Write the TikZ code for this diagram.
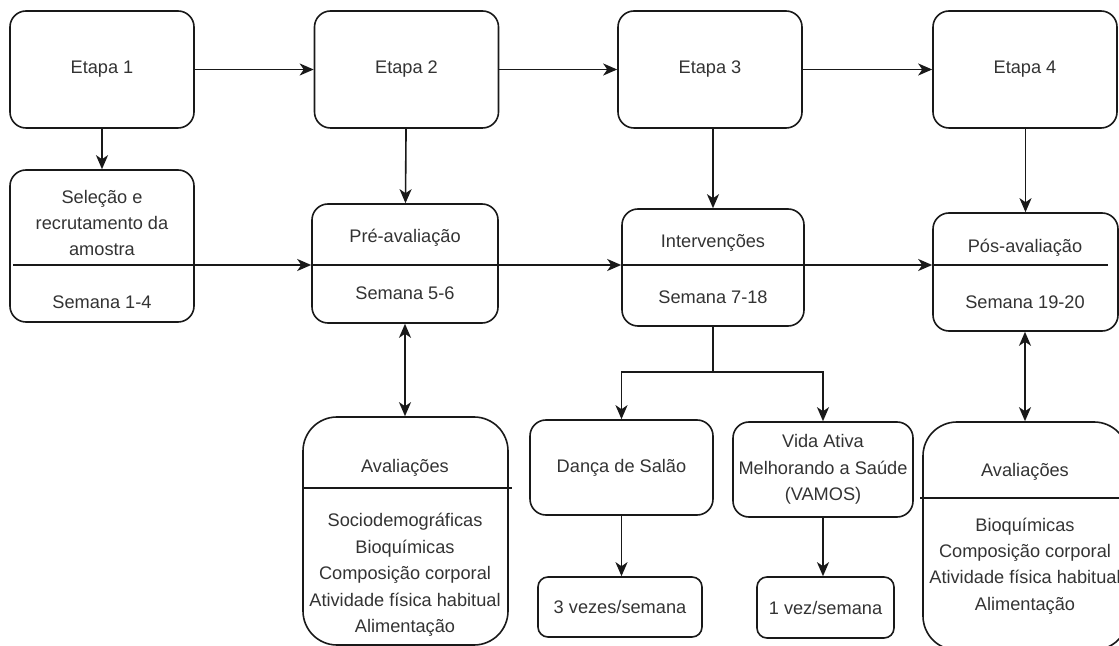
\documentclass[tikz,border=0pt]{standalone}
\usepackage{fontspec}
\setmainfont{Liberation Sans}
\usetikzlibrary{arrows.meta}
\tikzset{
	caixa/.style={draw=black!90, line width=0.8pt, rounded corners=8pt, inner sep=0pt, align=center,
			font=\fontsize{9.1}{13.2}\selectfont, text=black!80},
	avbox/.style={caixa, rounded corners=17pt},
	mini/.style={caixa, rounded corners=5pt},
	txt/.style={inner sep=0pt, align=center, font=\fontsize{9.1}{13.2}\selectfont, text=black!80},
	seta/.style={-{Stealth[length=7pt,width=6pt,inset=2pt]}, line width=0.8pt, black!90},
	seta2/.style={{Stealth[length=7pt,width=6pt,inset=2pt]}-{Stealth[length=7pt,width=6pt,inset=2pt]}, line width=0.8pt, black!90},
	linha/.style={line width=0.8pt, black!90}
}

\begin{document}
\begin{tikzpicture}[x=0.5pt, y=-0.5pt]
			\useasboundingbox (0, 0) rectangle (1119, 646);
			\clip (0, 0) rectangle (1119, 646);

			\node[caixa, minimum width=92pt, minimum height=58.5pt]	(e1) at (102, 69.5) {Etapa 1};
			\node[caixa, minimum width=92pt, minimum height=58.5pt]	(e2) at (406.5, 69.5) {Etapa 2};
			\node[caixa, minimum width=92pt, minimum height=58.5pt]	(e3) at (710, 69.5) {Etapa 3};
			\node[caixa, minimum width=92pt, minimum height=58.5pt]	(e4) at (1025, 69.5) {Etapa 4};

			\node[caixa, minimum width=92pt, minimum height=76pt]	(sel) at (102, 246) {};
			\node[caixa, minimum width=93pt, minimum height=59.5pt]	(pre) at (405, 263.5) {};
			\node[caixa, minimum width=91pt, minimum height=58.5pt]	(int) at (713, 267.5) {};
			\node[caixa, minimum width=92.5pt, minimum height=59pt]	(pos) at (1025.5, 272) {};

			\node[txt]	(sel-a) at (102, 223) {Seleção e\\recrutamento da\\amostra};
			\node[txt]	(sel-b) at (102, 302) {Semana 1-4};
			\node[txt]	(pre-a) at (405, 238) {Pré-avaliação};
			\node[txt]	(pre-b) at (405, 293) {Semana 5-6};
			\node[txt]	(int-a) at (713, 243) {Intervenções};
			\node[txt]	(int-b) at (713, 297) {Semana 7-18};
			\node[txt]	(pos-a) at (1025, 248) {Pós-avaliação};
			\node[txt]	(pos-b) at (1025, 302) {Semana 19-20};

			\node[avbox, minimum width=102.5pt, minimum height=114pt]	(av1) at (405.5, 531) {};
			\node[caixa, minimum width=91.5pt, minimum height=47.5pt]	(danca) at (621.5, 467.5) {Dança de Salão};
			\node[caixa, minimum width=90pt, minimum height=47.5pt]	(vida) at (823, 469.5) {Vida Ativa\\Melhorando a Saúde\\(VAMOS)};
			\node[avbox, minimum width=102.5pt, minimum height=114pt]	(av2) at (1025.5, 536) {};
			\node[mini, minimum width=82pt, minimum height=30pt]	(v3) at (620, 607) {3 vezes/semana};
			\node[mini, minimum width=68.5pt, minimum height=30.5pt]	(v1) at (825.5, 607.5) {1 vez/semana};

			\node[txt]	(av1-a) at (405, 468) {Avaliações};
			\node[txt]	(av1-b) at (405, 575) {Sociodemográficas\\Bioquímicas\\Composição corporal\\Atividade física habitual\\Alimentação};
			\node[txt]	(av2-a) at (1025, 472) {Avaliações};
			\node[txt]	(av2-b) at (1025, 566) {Bioquímicas\\Composição corporal\\Atividade física habitual\\Alimentação};

			\draw[seta]	(e1) -- (e2);
			\draw[seta]	(e2) -- (e3);
			\draw[seta]	(e3) -- (e4);
			\draw[seta]	(e1) -- (sel);
			\draw[seta]	(e2) -- (pre);
			\draw[seta]	(e3.south -| int.north) -- (int);
			\draw[seta]	(e4.south -| pos.north) -- (pos);

			\coordinate (h0) at (13, 265);
			\coordinate (h1) at (1108, 265);
			\draw[seta]	(h0) -- (h0 -| pre.west);
			\draw[seta]	(h0 -| pre.west) -- (h0 -| int.west);
			\draw[seta]	(h0 -| int.west) -- (h0 -| pos.west);
			\draw[linha]	(h0 -| pos.west) -- (h1);

			\draw[seta2]	(pre.south) -- (pre.south |- av1.north);
			\draw[seta2]	(pos.south -| e4.south) -- (av2.north -| e4.south);

			\coordinate (ramo) at (713, 372);
			\draw[linha]	(int.south) -- (ramo);
			\draw[seta]	(ramo) -| (danca.north);
			\draw[seta]	(ramo) -| (vida.north);
			\draw[seta]	(danca.south) -- (danca.south |- v3.north);
			\draw[seta]	(vida.south) -- (vida.south |- v1.north);

			\coordinate (a1) at (512, 488);
			\coordinate (a2) at (920, 498);
			\draw[linha]	(av1.west |- a1) -- (a1);
			\draw[linha]	(a2) -- (a2 -| av2.east);
		\end{tikzpicture}
\end{document}
